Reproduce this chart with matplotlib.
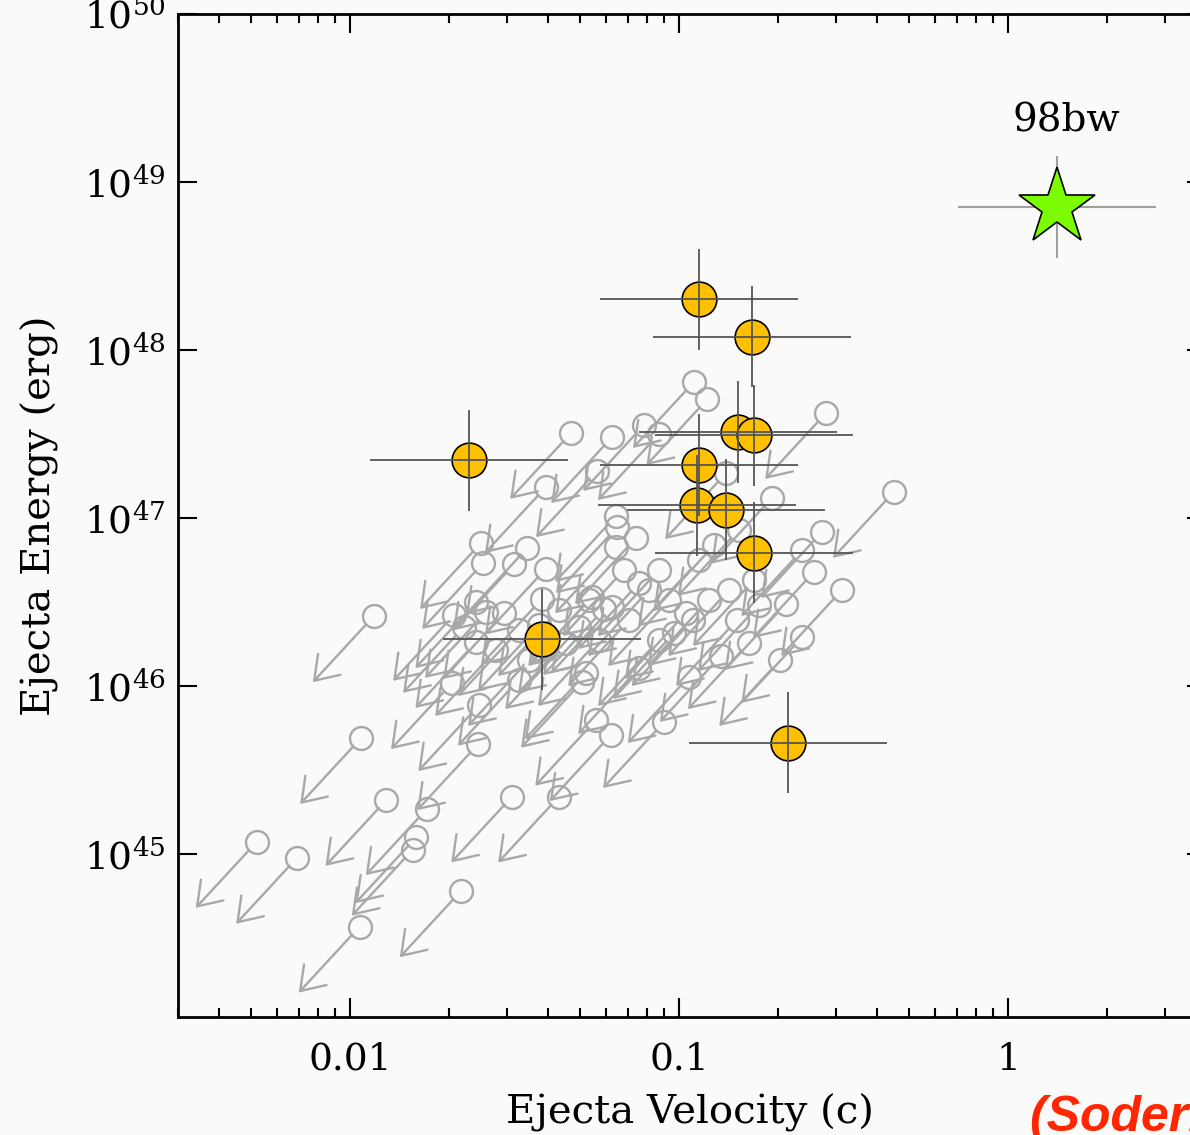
import numpy as np
import matplotlib.pyplot as plt
from matplotlib.patches import FancyArrowPatch
from matplotlib.ticker import FixedLocator, FuncFormatter, NullLocator

plt.rcParams['font.family'] = 'DejaVu Serif'
plt.rcParams['mathtext.fontset'] = 'dejavuserif'

# radio upper limits on Ibc supernovae: velocity (c) and energy (erg)
lim_v = [0.0052, 0.0069, 0.0107, 0.0108, 0.0129, 0.0118, 0.0171, 0.0159, 0.0155, 0.0217,
         0.0245, 0.0247, 0.0311, 0.0432, 0.056, 0.062, 0.090, 0.107, 0.0756, 0.0966,
         0.134, 0.163, 0.203, 0.237, 0.211, 0.313, 0.257, 0.237, 0.272, 0.192,
         0.450, 0.280, 0.111, 0.122, 0.0783, 0.0869, 0.0626, 0.0470, 0.0563, 0.0394,
         0.139, 0.0644, 0.0648, 0.074, 0.0644, 0.0250, 0.0254, 0.0315, 0.0345, 0.0394,
         0.068, 0.0383, 0.0242, 0.0207, 0.0259, 0.0294, 0.0533, 0.0592, 0.0497, 0.0811,
         0.0933, 0.105, 0.0278, 0.0242, 0.0454, 0.0521, 0.0204, 0.169, 0.175, 0.142,
         0.110, 0.0507, 0.0544, 0.0626, 0.0756, 0.0869, 0.115, 0.128, 0.152, 0.0705,
         0.0326, 0.0375, 0.0432, 0.0571, 0.123, 0.0222, 0.0326, 0.150, 0.0869, 0.035]
lim_E = [1.18e45, 9.5e44, 3.7e44, 4.9e45, 2.1e45, 2.6e46, 1.85e45, 1.26e45, 1.06e45, 6.0e44,
         4.5e45, 7.7e45, 2.2e45, 2.2e45, 6.3e45, 5.1e45, 6.1e45, 1.13e46, 1.28e46, 2.07e46,
         1.51e46, 1.80e46, 1.43e46, 1.96e46, 3.08e46, 3.73e46, 4.77e46, 6.45e46, 8.26e46, 1.32e47,
         1.43e47, 4.22e47, 6.45e47, 5.1e47, 3.58e47, 3.16e47, 3.03e47, 3.21e47, 1.90e47, 1.53e47,
         1.85e47, 1.03e47, 8.8e46, 7.6e46, 6.7e46, 7.1e46, 5.4e46, 5.3e46, 6.6e46, 5.0e46,
         4.9e46, 3.3e46, 3.16e46, 2.65e46, 2.76e46, 2.72e46, 3.25e46, 2.87e46, 2.25e46, 3.73e46,
         3.25e46, 2.72e46, 1.64e46, 1.83e46, 1.80e46, 1.19e46, 1.04e46, 4.28e46, 3.03e46, 3.73e46,
         2.47e46, 1.06e46, 3.39e46, 2.95e46, 4.1e46, 4.9e46, 5.6e46, 6.9e46, 8.5e46, 2.47e46,
         2.15e46, 2.31e46, 2.83e46, 1.88e46, 3.25e46, 2.25e46, 1.09e46, 2.47e46, 1.88e46, 1.43e46]

# detections
det_v = np.array([0.0230, 0.0383, 0.115, 0.167, 0.151, 0.169, 0.115, 0.1135, 0.139, 0.169, 0.214])
det_E = np.array([2.2e47, 1.9e46, 2.0e48, 1.2e48, 3.25e47, 3.1e47, 2.07e47, 1.19e47, 1.12e47, 6.2e46, 4.6e45])

# SN 1998bw
bw_v = np.array([1.41])
bw_E = np.array([7.1e48])

err_fac = 2.0          # factor-of-two uncertainties
arrow_fac = (0.653, 0.405)  # length of the limit arrows (v, E)

grey = '#a8a8a8'

fig = plt.figure(figsize=(11.9, 11.35), dpi=100)
fig.patch.set_facecolor('#fafafa')
ax = fig.add_axes([178/1190, 118/1135, 1028/1190, 1003/1135])
ax.set_facecolor('#fafafa')
ax.set_xscale('log')
ax.set_yscale('log')
ax.set_xlim(0.003, 4.0)
ax.set_ylim(10**44.03, 1e50)

# upper limits: open circle + arrow toward lower v and E
for v, E in zip(lim_v, lim_E):
    arr = FancyArrowPatch(posA=(v, E), posB=(v*arrow_fac[0], E*arrow_fac[1]),
                          arrowstyle='->,head_length=1.6,head_width=1.1',
                          mutation_scale=10, shrinkA=8, shrinkB=0,
                          color=grey, lw=1.7, zorder=2)
    ax.add_patch(arr)
ax.plot(lim_v, lim_E, 'o', ms=16.5, mfc='none', mec=grey, mew=1.7, zorder=3)

ax.plot(det_v, det_E, 'o', ms=25, mfc='#ffc000', mec='black', mew=1.2, zorder=5)
ax.errorbar(det_v, det_E,
            xerr=[det_v - det_v/err_fac, det_v*err_fac - det_v],
            yerr=[det_E - det_E/err_fac, det_E*err_fac - det_E],
            fmt='none', ecolor='#555555', elinewidth=1.3, capsize=0, zorder=6)

ax.errorbar(bw_v, bw_E,
            xerr=[bw_v - bw_v/err_fac, bw_v*err_fac - bw_v],
            yerr=[bw_E - bw_E/err_fac, bw_E*err_fac - bw_E],
            fmt='none', ecolor='#a0a0a0', elinewidth=1.5, capsize=0, zorder=6)
ax.plot(bw_v, bw_E, marker='*', ms=58, mfc='#7cfc00', mec='black', mew=1.2, zorder=7)
ax.text(1.5, 2.0e49, '98bw', ha='center', va='baseline', fontsize=28)

# axes styling
for s in ax.spines.values():
    s.set_linewidth(2)
ax.xaxis.set_major_locator(FixedLocator([0.001, 0.01, 0.1, 1, 10]))
ax.xaxis.set_minor_locator(FixedLocator([m*10.0**k for k in range(-3, 1) for m in range(2, 10)]))
ax.xaxis.set_major_formatter(FuncFormatter(lambda x, _: f'{x:g}'))
ax.yaxis.set_major_locator(FixedLocator([10.0**k for k in range(44, 51)]))
ax.yaxis.set_minor_locator(NullLocator())
ax.yaxis.set_major_formatter(FuncFormatter(lambda y, _: r'$10^{%d}$' % round(np.log10(y))))
ax.tick_params(which='both', direction='in', top=True, right=True, width=1.5, labelsize=27)
ax.tick_params(which='major', length=13.7)
ax.tick_params(which='minor', length=6.7)
ax.tick_params(axis='x', pad=18)
ax.tick_params(axis='y', pad=9)

ax.set_xlabel('Ejecta Velocity (c)', fontsize=29)
ax.set_ylabel('Ejecta Energy (erg)', fontsize=29)
ax.xaxis.set_label_coords(0.498, -0.076)
ax.yaxis.set_label_coords(-0.116, 0.5)

fig.text(1030/1190, 4/1135, '(Soderberg et al. 2010)', color='#ff2600', fontsize=36,
         fontweight='bold', fontstyle='italic', family='Liberation Sans', va='baseline')

fig.savefig('out.png', dpi=100, facecolor=fig.get_facecolor())
